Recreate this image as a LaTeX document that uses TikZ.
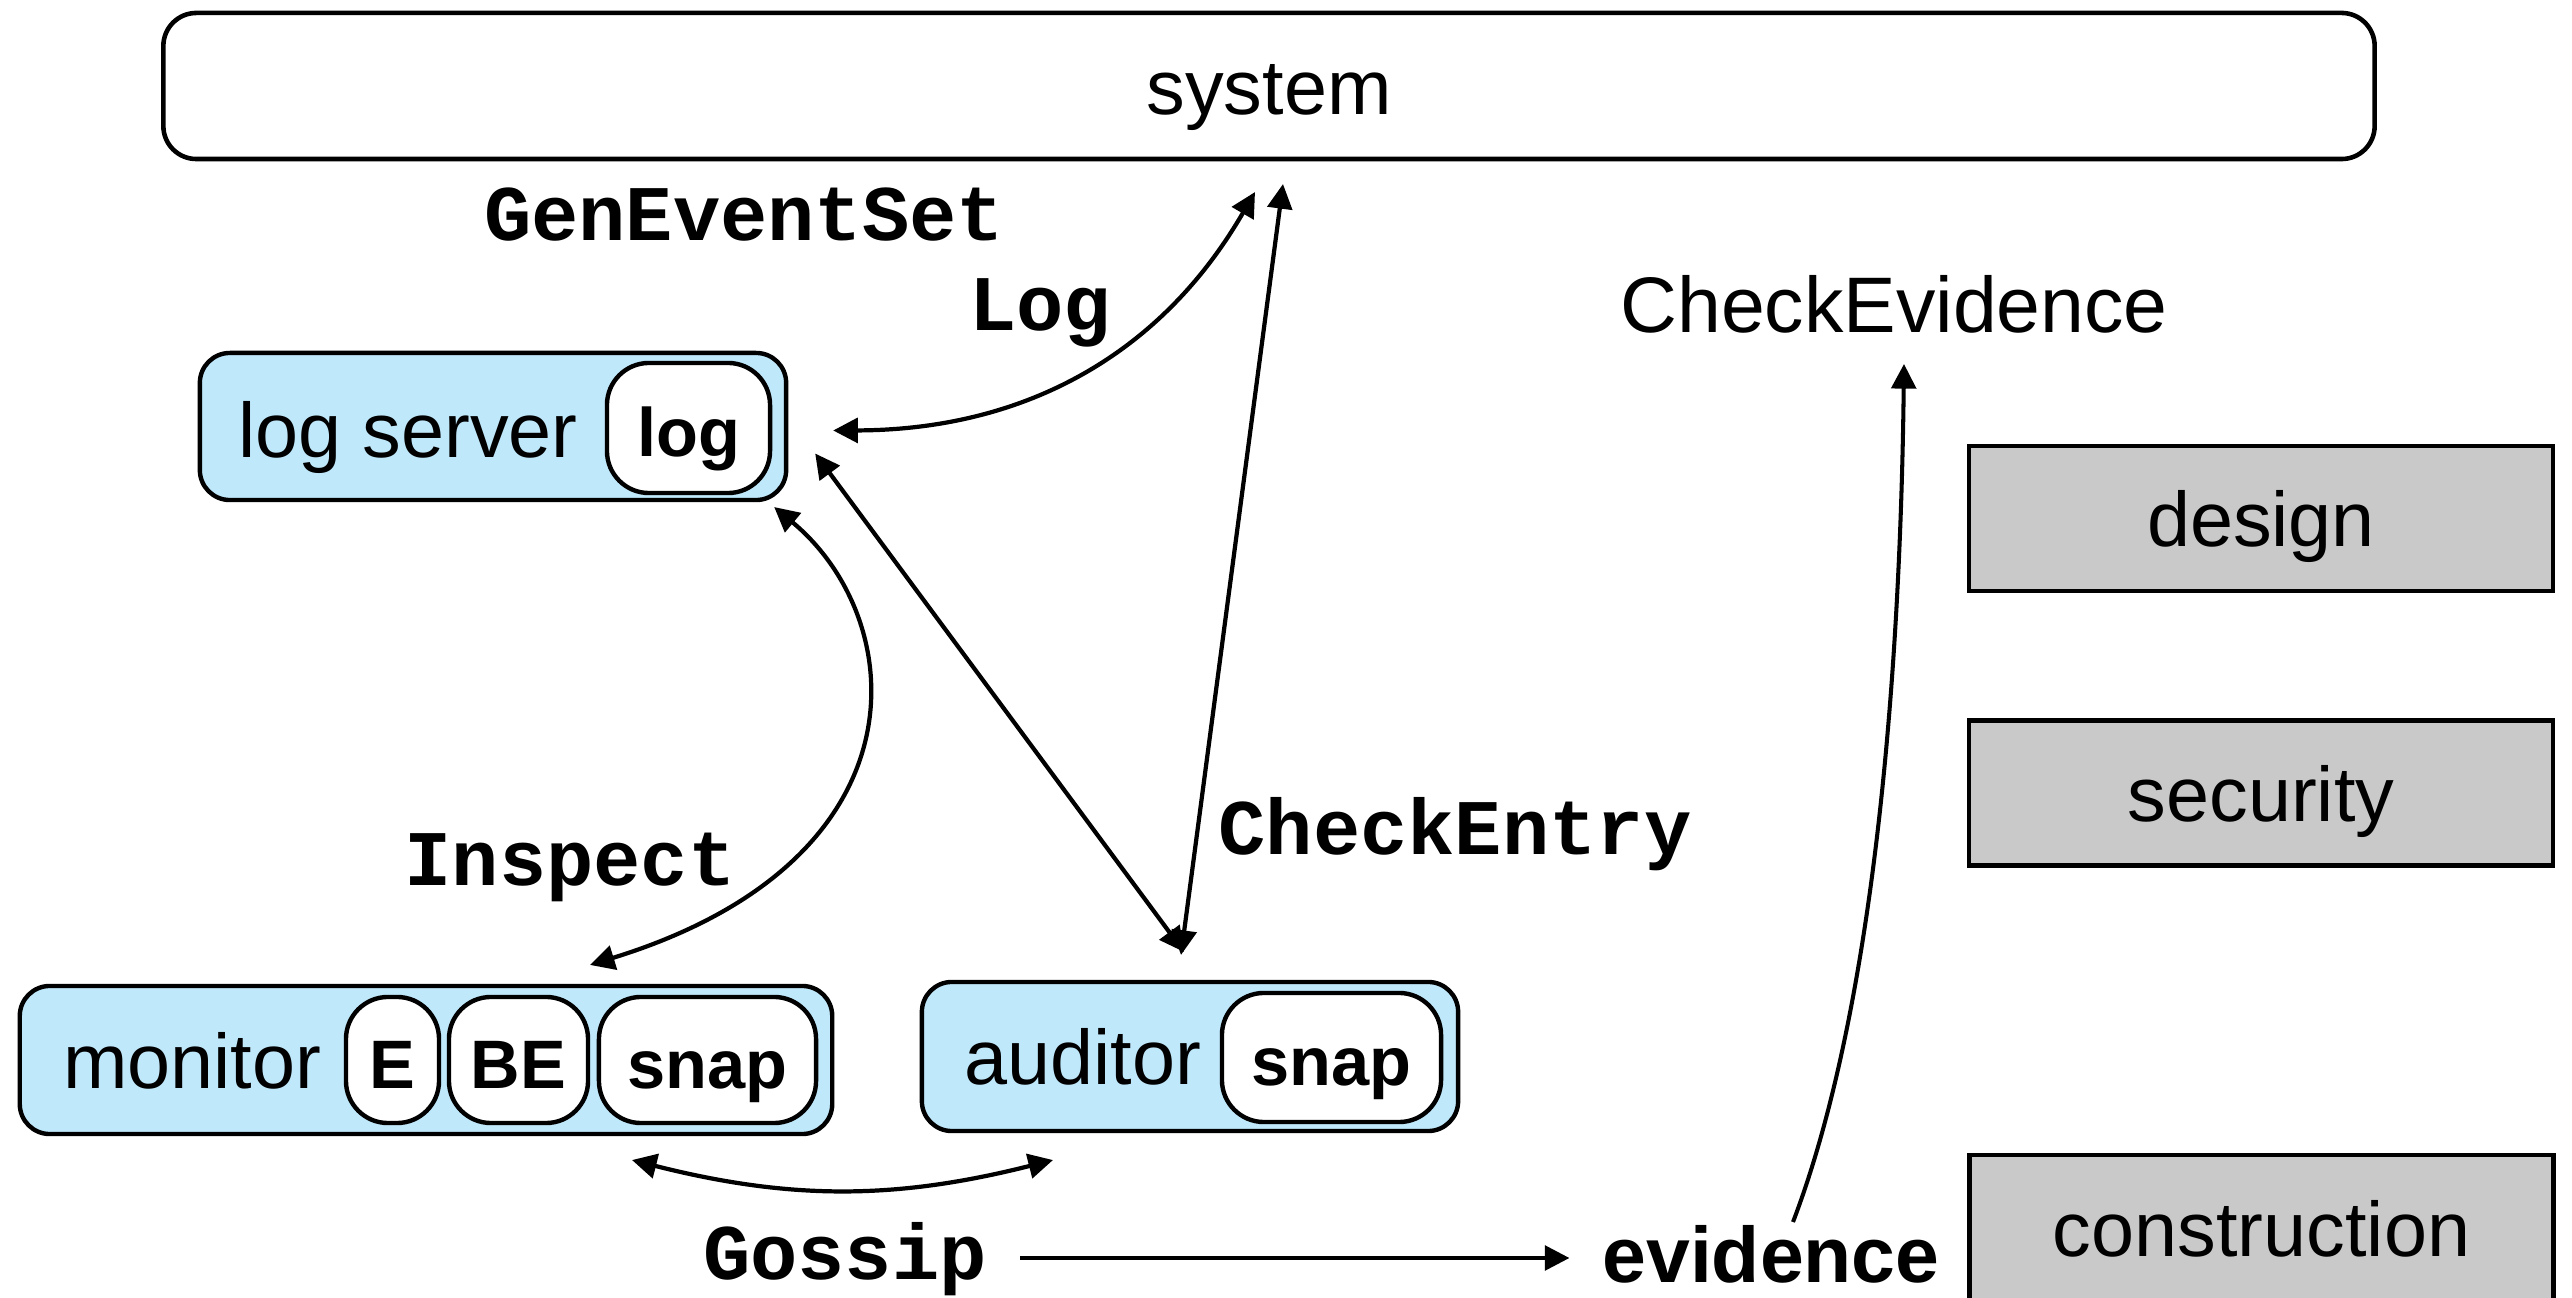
\documentclass[tikz,border=0pt]{standalone}
\usepackage{fontspec}
\setmainfont{Liberation Sans}
\newfontfamily\courfont{Liberation Mono}
\usetikzlibrary{arrows.meta,calc}
\definecolor{boxblue}{RGB}{192,232,251}
\definecolor{boxgray}{RGB}{201,201,201}
\begin{document}
\begin{tikzpicture}[x=0.01cm,y=-0.01cm,
  every node/.style={inner sep=0pt,outer sep=0pt},
  regfont/.style={font=\fontsize{22}{26}\selectfont},
  regtext/.style={regfont,anchor=base},
  monolbl/.style={font=\courfont\bfseries\fontsize{22.4}{26}\selectfont,anchor=base},
  bluebox/.style={draw,line width=1.25pt,fill=boxblue,rounded corners=0.3cm},
  innerbox/.style={draw,line width=1.25pt,fill=white,rounded corners=0.42cm,
    font=\bfseries\fontsize{19.5}{22}\selectfont,text height=16pt,text depth=0pt,minimum height=1.28cm},
  graybox/.style={draw,line width=1.3pt,fill=boxgray,regfont,text height=16pt,text depth=0pt,
    minimum width=5.84cm,minimum height=1.45cm},
  dbl/.style={line width=1.2pt,{Triangle[length=7pt,width=7pt]}-{Triangle[length=7pt,width=7pt]}},
  sgl/.style={line width=1.15pt,-{Triangle[length=7pt,width=7pt]}}]
\useasboundingbox (0,0) rectangle (2572,1298);

% system
\node[draw,line width=1.3pt,rounded corners=0.33cm,minimum width=22.10cm,minimum height=1.46cm,
  regfont,text height=16pt,text depth=0pt] (sys) at (1269,86) {system};

% log server
\node[bluebox,minimum width=5.86cm,minimum height=1.47cm] (ls) at (493,426.5) {};
\node[regtext] (lstext) at (408,458) {log server};
\node[innerbox,minimum width=1.63cm,minimum height=1.30cm] (lslog) at (688.5,428) {log};

% monitor
\node[bluebox,minimum width=8.12cm,minimum height=1.48cm] (mon) at (426,1060) {};
\node[regtext] (montext) at (192,1089) {monitor};
\node[innerbox,minimum width=0.93cm,minimum height=1.26cm] (monE) at (392.5,1060) {E};
\node[innerbox,minimum width=1.39cm,minimum height=1.26cm] (monBE) at (518.5,1060) {BE};
\node[innerbox,minimum width=2.17cm,minimum height=1.26cm] (monsnap) at (707.5,1060) {snap};

% auditor
\node[bluebox,minimum width=5.36cm,minimum height=1.49cm] (aud) at (1190,1056.5) {};
\node[regtext] (audtext) at (1083,1085) {auditor};
\node[innerbox,minimum width=2.19cm,minimum height=1.29cm] (audsnap) at (1331.5,1057.5) {snap};

% gray boxes
\node[graybox] (design) at (2261,518.5) {design};
\node[graybox] (security) at (2261,793) {security};
\node[graybox,minimum height=1.47cm] (construction) at (2261.5,1228.5) {construction};

% labels
\node[regtext,font=\fontsize{22.4}{26}\selectfont] (chk) at (1894,333) {CheckEvidence};
\node[monolbl] (gen) at (744,241) {GenEventSet};
\node[monolbl] (log) at (1040,331) {Log};
\node[monolbl] (insp) at (570,886) {Inspect};
\node[monolbl] (chkentry) at (1455,855) {CheckEntry};
\node[monolbl] (gossip) at (845,1280) {Gossip};
\node[font=\bfseries\fontsize{22.4}{26}\selectfont,anchor=base] (evid) at (1771,1283) {evidence};

% connectors
\draw[dbl] ($(sys.south)+(-14,33)$) .. controls (1160,356) and (1023,430) .. ($(ls.east)+(47,4)$);
\draw[dbl] ($(sys.south)+(14,25)$) -- ($(aud.north)+(-9,-27)$);
\draw[dbl] ($(ls.east)+(29,27)$) -- ($(aud.north)+(-6,-30)$);
\draw[dbl] ($(ls.south east)+(-12,7)$) .. controls (910,620) and (930,860) .. ($(mon.north)+(164,-21)$);
\draw[dbl] ($(mon.south)+(206,26)$) .. controls (790,1200) and (895,1200) .. ($(aud.south)+(-137,29)$);
\draw[sgl] ($(gossip.base east)+(33,-22)$) -- ($(evid.base west)+(-33,-25)$);
\draw[sgl] ($(evid.base)+(22,-61)$) .. controls (1870,1020) and (1900,700) .. ($(chk.base)+(10,31)$);
\end{tikzpicture}
\end{document}
